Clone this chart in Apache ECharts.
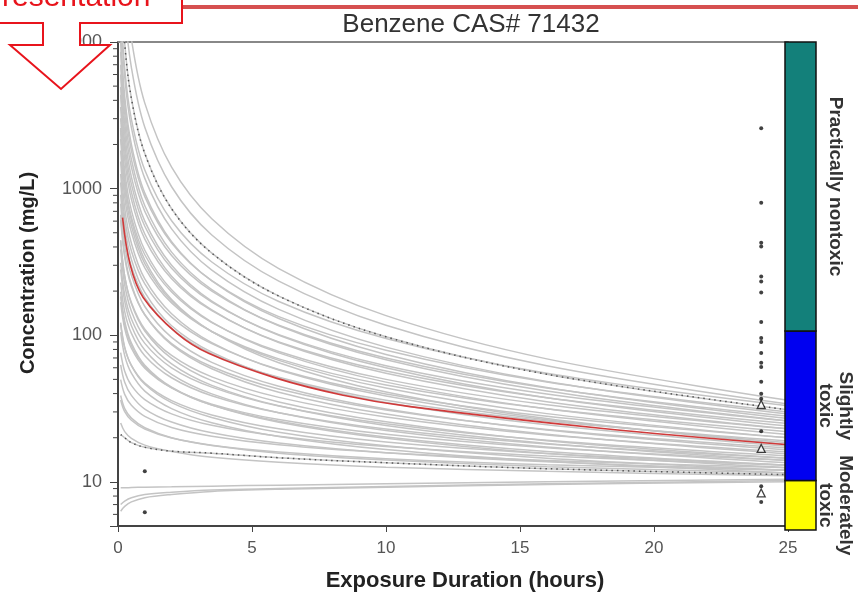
<!DOCTYPE html>
<html>
<head>
<meta charset="utf-8">
<script src="https://cdn.jsdelivr.net/npm/echarts@6/dist/echarts.min.js"></script>
<style>
  html, body { margin: 0; padding: 0; background: #fff; }
  #chart { width: 858px; height: 597px; }
</style>
</head>
<body>
<div id="chart"></div>
<script>
var sampleHours = [0.1, 0.25, 0.5, 1, 2, 3.5, 6, 10, 16, 25];

// gray curves, concentration (mg/L) at sampleHours, top to bottom
var grayCurves = [
  [108000, 28600, 10500, 3830, 1400, 623, 285, 136, 69, 36],
  [58700, 17000, 6700, 2620, 1030, 483, 234, 117, 62, 34],
  [18900, 6600, 2970, 1340, 604, 316, 170, 95, 55, 33],
  [16600, 5800, 2610, 1175, 531, 278, 150, 83, 48.4, 29],
  [11700, 4270, 2000, 932, 435, 235, 130, 74, 44, 27],
  [9900, 3780, 1820, 882, 426, 236, 134, 79, 48, 30],
  [8580, 3280, 1580, 764, 369, 205, 116, 68, 41.6, 26],
  [7000, 2800, 1400, 700, 350, 200, 117, 70, 43.7, 28],
  [6000, 2400, 1200, 600, 300, 171, 100, 60, 37.5, 24],
  [4940, 2060, 1070, 554, 286, 168, 101, 62, 39.8, 26],
  [4370, 1826, 945, 490, 253, 149, 89.2, 55, 35.2, 23],
  [3600, 1580, 845, 453, 243, 147, 90, 57, 37.5, 25],
  [3020, 1325, 710, 380, 204, 123, 75.8, 47.9, 31.5, 21],
  [2590, 1136, 608, 326, 175, 106, 65, 41, 27, 18],
  [2510, 1150, 639, 354, 197, 122, 77.5, 50, 33.6, 23],
  [2180, 1002, 556, 308, 171, 106, 67.4, 43.6, 29.2, 20],
  [1820, 876, 504, 288, 166, 106, 69, 45.8, 31.5, 22],
  [1530, 736, 424, 242, 140, 89, 57.9, 38.5, 26.5, 18.5],
  [1258, 632, 376, 224, 133, 87.6, 58.4, 39.8, 28, 20],
  [1100, 553, 329, 196, 116, 76.7, 51.1, 34.8, 24.5, 17.5],
  [908, 477, 294, 181, 111, 75, 51.7, 36, 26, 19],
  [789, 414, 256, 157, 96.7, 65.3, 44.9, 31.4, 22.6, 16.5],
  [663, 355, 222, 138, 86.3, 59.1, 40.9, 29, 21.1, 15.5],
  [615, 340, 216, 138, 87.7, 61, 43, 30.9, 22.8, 17],
  [445, 252, 164, 107, 69.5, 49, 35.1, 25.7, 19.1, 14.5],
  [440, 253, 167, 110, 72.8, 52, 37.7, 27.7, 20.9, 16],
  [385, 221, 146, 96.6, 63.7, 45.5, 33, 24.2, 18.3, 14],
  [312, 189, 129, 88, 60, 44.3, 32.9, 24.9, 19.2, 15],
  [281, 170, 116, 79.2, 54.1, 39.8, 29.6, 22.4, 17.3, 13.5],
  [229, 145, 103, 72.5, 51.3, 38.7, 29.6, 22.9, 18.1, 14.5],
  [198, 125, 88.5, 62.5, 44.3, 33.4, 25.5, 19.8, 15.6, 12.5],
  [184, 119, 85.1, 61, 43.8, 33.4, 25.9, 20.2, 16.1, 13],
  [168, 111, 81.5, 59.6, 43.7, 33.9, 26.6, 21.1, 17.1, 14],
  [122, 83, 62.1, 46.3, 34.7, 27.5, 21.8, 17.6, 14.5, 12],
  [118, 82, 62.3, 47.1, 35.8, 28.6, 23, 18.7, 15.6, 13],
  [105, 72.6, 55.1, 41.6, 31.6, 25.3, 20.4, 16.6, 13.8, 11.5],
  [76, 56.8, 45.5, 36.4, 29.1, 24.3, 20.5, 17.4, 15, 13],
  [62.9, 47.8, 38.9, 31.4, 25.6, 21.6, 18.4, 15.8, 13.7, 12],
  [49.8, 39.5, 33.3, 28, 23.5, 20.5, 17.9, 15.8, 14, 12.5],
  [38.8, 31.6, 27.2, 23.4, 20, 17.7, 15.7, 14.1, 12.7, 11.5],
  [36.2, 30.1, 26.3, 22.9, 19.9, 17.8, 16, 14.4, 13.1, 12],
  [25.2, 22, 19.8, 17.8, 16.1, 14.7, 13.6, 12.6, 11.8, 11],
  [9.1, 9.1, 9.15, 9.2, 9.25, 9.35, 9.5, 9.7, 10.0, 10.4],
  [7.0, 7.4, 7.8, 8.2, 8.5, 8.8, 9.0, 9.3, 9.7, 10.2],
  [6.3, 6.8, 7.3, 7.8, 8.2, 8.6, 8.9, 9.2, 9.6, 10.0]
];

// the two dark dotted curves
var dottedCurves = [
  [30800, 9800, 4120, 1736, 729, 363, 185, 97.6, 54.2, 31],
  [21, 20, 18.5, 17.2, 16.2, 15.7, 14.6, 13.5, 12.3, 11.2]
];

// red curve
var redHours = [0.17, 0.45, 0.94, 2.2, 3.4, 5.9, 8.4, 10.9, 18, 25];
var redConc = [634, 305, 181, 103, 75, 51, 39, 32.6, 23.2, 17.9];

// observed points
var dotHours = [24, 24, 24, 24, 24, 24, 24, 24, 24, 24, 24, 24, 24, 24, 24, 24, 24, 24, 24, 1, 1];
var dotConc = [2576, 800, 428, 403, 252, 233, 196, 123, 95.7, 90, 75.7, 64.8, 60.8, 48.2, 39.9, 36.9, 22.1, 9.35, 7.28, 11.8, 6.2];
var triHours = [24, 24, 24];
var triConc = [33.7, 16.9, 8.4];

// minor ticks of the log axis
var yMinorTicks = [6, 7, 8, 9, 20, 30, 40, 50, 60, 70, 80, 90, 200, 300, 400, 500, 600, 700, 800, 900,
  2000, 3000, 4000, 5000, 6000, 7000, 8000, 9000];

// toxicity bands on the right
var bandLow = [5, 10.8, 111];
var bandHigh = [10.8, 111, 10000];
var bandNames = ['Moderately\ntoxic', 'Slightly\ntoxic', 'Practically nontoxic'];
var bandColors = ['#ffff00', '#0000f0', '#13807a'];

var myChart = echarts.init(document.getElementById('chart'));

function pairs(xs, ys) {
  return xs.map(function (x, i) { return [x, ys[i]]; });
}

var series = [];

grayCurves.concat(dottedCurves).forEach(function (c) {
  series.push({
    type: 'line', xAxisIndex: 0, yAxisIndex: 0,
    data: pairs(sampleHours, c),
    showSymbol: false, smooth: 0.35, silent: true,
    lineStyle: { color: '#c4c4c4', width: 1.5 }, z: 2
  });
});

dottedCurves.forEach(function (c) {
  series.push({
    type: 'line', xAxisIndex: 0, yAxisIndex: 0,
    data: pairs(sampleHours, c),
    showSymbol: false, smooth: 0.35, silent: true,
    lineStyle: { color: '#555', width: 1.5, type: [1.5, 4] }, z: 3
  });
});

series.push({
  type: 'line', xAxisIndex: 0, yAxisIndex: 0,
  data: pairs(redHours, redConc),
  showSymbol: false, smooth: 0.35, silent: true,
  lineStyle: { color: '#d03a3a', width: 1.6 }, z: 4
});

series.push({
  type: 'scatter', xAxisIndex: 0, yAxisIndex: 0,
  data: pairs(dotHours, dotConc),
  symbol: 'circle', symbolSize: 4, silent: true,
  itemStyle: { color: '#111' }, z: 5
});

series.push({
  type: 'scatter', xAxisIndex: 0, yAxisIndex: 0,
  data: pairs(triHours, triConc),
  symbol: 'triangle', symbolSize: 8, silent: true,
  itemStyle: { color: '#fff', borderColor: '#111', borderWidth: 1.3 }, z: 5
});

// minor ticks on the y axis
series.push({
  type: 'custom', xAxisIndex: 0, yAxisIndex: 0, silent: true,
  data: yMinorTicks.map(function (v) { return [0, v]; }),
  renderItem: function (params, api) {
    var p = api.coord([0, api.value(1)]);
    return {
      type: 'line',
      shape: { x1: p[0] - 5, y1: p[1], x2: p[0], y2: p[1] },
      style: { stroke: '#444', lineWidth: 1 }
    };
  }
});

// toxicity color bar with its labels
series.push({
  type: 'custom', xAxisIndex: 2, yAxisIndex: 1, silent: true, z: 10,
  data: bandLow.map(function (lo, i) { return [0, lo, bandHigh[i], i]; }),
  renderItem: function (params, api) {
    var i = api.value(3);
    var a = api.coord([0, api.value(1)]);
    var b = api.coord([1, api.value(2)]);
    return {
      type: 'group',
      children: [
        {
          type: 'rect',
          shape: { x: a[0], y: b[1], width: b[0] - a[0], height: a[1] - b[1] },
          style: { fill: bandColors[i], stroke: '#111', lineWidth: 1.5 }
        },
        {
          type: 'text',
          x: b[0] + 19, y: (a[1] + b[1]) / 2,
          rotation: -Math.PI / 2,
          style: {
            text: bandNames[i], fill: '#333',
            font: 'bold 19px "Liberation Sans", Arial, sans-serif',
            align: 'center', verticalAlign: 'middle', lineHeight: 20
          }
        }
      ]
    };
  }
});

var option = {
  animation: false,
  title: {
    text: 'Benzene CAS# 71432',
    left: 466, top: 7, textAlign: 'center',
    textStyle: { fontFamily: '"Liberation Sans", Arial, sans-serif', fontSize: 26, fontWeight: 'normal', color: '#333' }
  },
  grid: [
    { left: 118, right: 70, top: 42, bottom: 67 },
    { left: 785, width: 31, top: 42, bottom: 67 }
  ],
  xAxis: [
    {
      gridIndex: 0, type: 'value', min: 0, max: 25, interval: 5,
      name: 'Exposure Duration (hours)', nameLocation: 'middle', nameGap: 44,
      nameTextStyle: { fontFamily: '"Liberation Sans", Arial, sans-serif', fontSize: 22, fontWeight: 'bold', color: '#222', padding: [0, 0, 0, 24] },
      axisLine: { lineStyle: { color: '#444', width: 2 } },
      axisTick: { length: 6, lineStyle: { color: '#444' } },
      axisLabel: { fontFamily: '"Liberation Sans", Arial, sans-serif', fontSize: 17, color: '#555', margin: 14 },
      splitLine: { show: false }
    },
    {
      gridIndex: 0, type: 'value', min: 0, max: 25, position: 'top',
      axisLine: { show: true, lineStyle: { color: '#888', width: 2 } },
      axisTick: { show: false }, axisLabel: { show: false }, splitLine: { show: false }
    },
    { gridIndex: 1, type: 'value', min: 0, max: 1, show: false }
  ],
  yAxis: [
    {
      gridIndex: 0, type: 'log', logBase: 10, min: 5, max: 10000,
      name: 'Concentration (mg/L)', nameLocation: 'middle', nameGap: 80,
      nameTextStyle: { fontFamily: '"Liberation Sans", Arial, sans-serif', fontSize: 20, fontWeight: 'bold', color: '#222', padding: [0, 0, 0, 22] },
      axisLine: { show: true, lineStyle: { color: '#444', width: 2 } },
      axisTick: { length: 8, lineStyle: { color: '#444' } },
      axisLabel: {
        fontFamily: '"Liberation Sans", Arial, sans-serif', fontSize: 18, color: '#555', margin: 16,
        formatter: function (v) {
          var e = Math.log(v) / Math.LN10;
          return Math.abs(e - Math.round(e)) < 1e-6 ? String(Math.round(v)) : '';
        }
      },
      splitLine: { show: false }
    },
    { gridIndex: 1, type: 'log', logBase: 10, min: 5, max: 10000, show: false }
  ],
  graphic: [
    {
      type: 'line', z: 100, silent: true,
      shape: { x1: 182, y1: 7, x2: 858, y2: 7 },
      style: { stroke: '#d65050', lineWidth: 4 }
    },
    {
      type: 'polygon', z: 100, silent: true,
      shape: { points: [[-5, -5], [182, -5], [182, 23], [80, 23], [80, 45], [110, 45], [61, 89], [10, 45], [43, 45], [43, 23], [-5, 23]] },
      style: { fill: '#fff', stroke: '#e8141c', lineWidth: 2 }
    },
    {
      type: 'text', z: 101, silent: true,
      x: -18, y: 13,
      style: {
        text: 'Presentation', fill: '#e8141c',
        font: '30px "Liberation Sans", Arial, sans-serif',
        verticalAlign: 'bottom'
      }
    }
  ],
  series: series
};

myChart.setOption(option);
</script>
</body>
</html>
